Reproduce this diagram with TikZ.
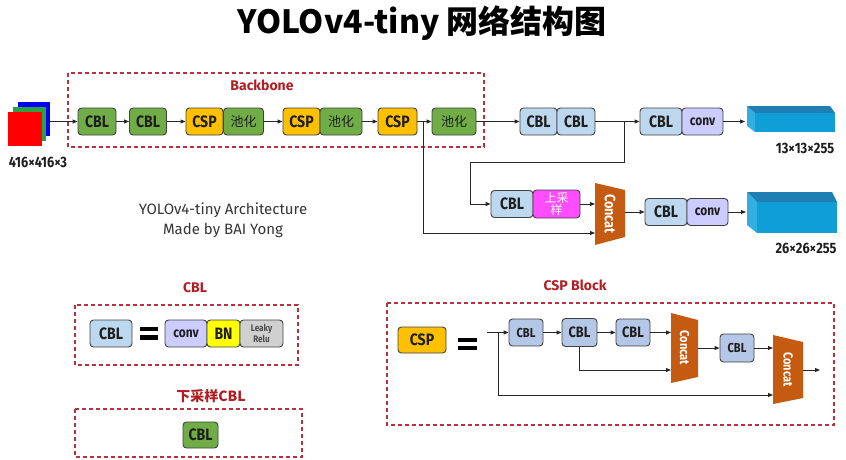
\documentclass[tikz,border=0pt]{standalone}
\usepackage{fontspec}
\setmainfont{Fira Sans}
\newfontfamily\cjk{Noto Sans CJK SC}
\newfontfamily\bx[FakeStretch=0.85]{Fira Sans}
\usetikzlibrary{arrows.meta}
\definecolor{gr}{HTML}{70AD47}
\definecolor{yl}{HTML}{FFC000}
\definecolor{lb}{HTML}{BDD7EE}
\definecolor{lb2}{HTML}{B4C7E7}
\definecolor{lv}{HTML}{CCCCFF}
\definecolor{pk}{HTML}{FF4DFF}
\definecolor{cc}{HTML}{C55A11}
\definecolor{bd}{HTML}{404040}
\definecolor{tx}{HTML}{1E1E1E}
\definecolor{lnc}{HTML}{262626}
\definecolor{dr}{HTML}{B8323C}
\definecolor{dt}{HTML}{B01E23}
\definecolor{ct}{HTML}{1F7FB3}
\definecolor{cf}{HTML}{0F9FD6}
\definecolor{cs}{HTML}{33AEE0}
\definecolor{gy}{HTML}{D0D0D0}
\definecolor{by}{HTML}{FFFF00}
\definecolor{ig}{HTML}{2EA043}
\begin{document}
\begin{tikzpicture}[x=1pt,y=-1pt,
  box/.style={draw=bd, line width=0.9pt, rounded corners=3.5pt, minimum height=27pt, inner sep=0pt, text=tx, font=\bx\bfseries\fontsize{16.5}{16.5}\selectfont},
  gbox/.style={box, fill=gr},
  ybox/.style={box, fill=yl},
  bbox/.style={box, fill=lb},
  bbox2/.style={box, fill=lb2},
  vbox/.style={box, fill=lv, font=\bx\bfseries\fontsize{14}{14}\selectfont},
  cnbox/.style={box, fill=gr, font=\cjk\fontsize{13}{13}\selectfont},
  ar/.style={draw=lnc, line width=0.9pt, -{Triangle[length=5pt,width=4pt]}},
  lnk/.style={draw=lnc, line width=0.9pt},
  dbox/.style={draw=dr, line width=1.2pt, dash pattern=on 4pt off 3pt},
  ttl/.style={text=dt, font=\bfseries\fontsize{14}{14}\selectfont},
  cat/.style={fill=cc},
  cattxt/.style={text=white, rotate=-90, inner sep=0pt, font=\bx\bfseries\fontsize{15}{15}\selectfont},
  dimtxt/.style={text=tx, font=\bx\bfseries\fontsize{15}{15}\selectfont},
  eqbar/.style={fill=black}
]
\useasboundingbox (0,0) rectangle (846,460);

% title
\node[text=black, font=\cjk\bfseries\fontsize{32}{32}\selectfont] (title) at (422,23) {YOLOv4-tiny 网络结构图};

% input
\fill[blue] (18,102) rectangle (50,136);
\fill[ig] (13,107) rectangle (46,141);
\fill[red] (8,112) rectangle (42,146);
\coordinate (inp) at (50,121.5);
\node[dimtxt] (inlab) at (38,162) {416×416×3};

% backbone
\draw[dbox] (68,73) rectangle (484,147);
\node[ttl] (bbl) at (262,85) {Backbone};

\node[gbox, minimum width=38pt] (c1) at (97,121.5) {CBL};
\node[gbox, minimum width=37pt] (c2) at (148,121.5) {CBL};
\node[ybox, minimum width=37pt] (s1) at (204.5,121.5) {CSP};
\node[cnbox, minimum width=40pt] (p1) at (243.5,121.5) {池化};
\node[ybox, minimum width=37pt] (s2) at (301.5,121.5) {CSP};
\node[cnbox, minimum width=42pt] (p2) at (341,121.5) {池化};
\node[ybox, minimum width=39pt] (s3) at (397.5,121.5) {CSP};
\node[cnbox, minimum width=44pt] (p3) at (454,121.5) {池化};
\node[bbox, minimum width=37pt] (b1) at (538.5,121.5) {CBL};
\node[bbox, minimum width=38pt] (b2) at (576,121.5) {CBL};
\node[bbox, minimum width=42pt] (b3) at (661,121.5) {CBL};
\node[vbox, minimum width=41pt] (v1) at (702.5,121.5) {conv};

\draw[ar] (inp) -- (c1.west);
\draw[ar] (c1) -- (c2);
\draw[ar] (c2) -- (s1);
\draw[ar] (p1) -- (s2);
\draw[ar] (p2) -- (s3);
\coordinate (j1) at (423,121.5);
\draw[lnk] (s3.east) -- (j1);
\draw[ar] (j1) -- (p3.west);
\draw[ar] (p3) -- (b1);
\coordinate (j2) at (624,121.5);
\draw[lnk] (b2.east) -- (j2);
\draw[ar] (j2) -- (b3.west);
\coordinate (k1) at (745,121.5);
\draw[ar] (v1) -- (k1);

% cube 1
\fill[cs] (747,106) -- (755,113) -- (755,132) -- (747,126) -- cycle;
\fill[ct] (747,106) -- (830,106) -- (835,113) -- (755,113) -- cycle;
\fill[cf] (755,113) rectangle (835,132);
\node[dimtxt] (o1) at (805,148) {13×13×255};

% second row
\node[bbox, minimum width=42pt] (d1) at (512,204) {CBL};
\node[box, fill=pk, minimum width=47pt, minimum height=28pt, text=white, align=center, font=\cjk\fontsize{12}{12.5}\selectfont] (up) at (556.5,204) {上采\\样};
\coordinate (jm) at (470,162);
\draw[ar] (j2) |- (jm) |- (d1.west);

\fill[cat] (595,183) -- (625,190) -- (625,237) -- (595,245) -- cycle;
\node[cattxt] (ka) at (610,214) {Concat};
\coordinate (ka1) at (595,204);
\coordinate (ka2) at (595,233);
\coordinate (kao) at (625,212);
\draw[ar] (up) -- (ka1);
\draw[ar] (j1) |- (ka2);

\node[bbox, minimum width=42pt] (e1) at (666,212) {CBL};
\node[vbox, minimum width=41pt] (v2) at (707.5,212) {conv};
\draw[ar] (kao) -- (e1.west);
\coordinate (k2) at (746,212);
\draw[ar] (v2) -- (k2);

% cube 2
\fill[cs] (747,192) -- (757,202) -- (757,233) -- (747,225) -- cycle;
\fill[ct] (747,192) -- (832,192) -- (837,202) -- (757,202) -- cycle;
\fill[cf] (757,202) rectangle (837,233);
\node[dimtxt] (o2) at (806,248) {26×26×255};

% subtitle
\node[text=tx!90, align=center, font=\fontsize{15}{19.5}\selectfont] (sub) at (223,220) {YOLOv4-tiny Architecture\\Made by BAI Yong};

% CBL legend
\node[ttl] (tcbl) at (195,288) {CBL};
\draw[dbox] (75,305) rectangle (298,365);
\node[bbox, minimum width=42pt] (q0) at (111,333.5) {CBL};
\fill[eqbar] (140,326.5) rectangle (158,331);
\fill[eqbar] (140,335) rectangle (158,339.5);
\node[vbox, minimum width=42pt] (q1) at (186,333.5) {conv};
\node[box, fill=by, minimum width=33pt] (q2) at (223.5,333.5) {BN};
\node[box, fill=gy, minimum width=43pt, align=center, text=tx!80, font=\bx\bfseries\fontsize{9.5}{10.5}\selectfont] (q3) at (261.5,333.5) {Leaky\\Relu};

% downsample CBL legend
\node[ttl, font=\cjk\bfseries\fontsize{14}{14}\selectfont] (tdown) at (211,396) {下采样CBL};
\draw[dbox] (75,409) rectangle (302,457);
\node[gbox, minimum width=35pt, minimum height=26pt] (q4) at (200.5,435) {CBL};

% CSP block legend
\node[ttl] (tcsp) at (575,285) {CSP Block};
\draw[dbox] (387,303) rectangle (834,425);
\node[ybox, minimum width=48pt, minimum height=26pt] (r0) at (422,340) {CSP};
\fill[eqbar] (458,338) rectangle (477,342);
\fill[eqbar] (458,346) rectangle (477,350);
\coordinate (rin) at (487,332.5);
\coordinate (rbr) at (498,332.5);
\node[bbox2, minimum width=34pt, font=\bx\bfseries\fontsize{13}{13}\selectfont] (ra) at (526,332.5) {CBL};
\node[bbox2, minimum width=35pt, minimum height=28pt, font=\bx\bfseries\fontsize{15}{15}\selectfont] (rb) at (579.5,332.5) {CBL};
\node[bbox2, minimum width=34pt, font=\bx\bfseries\fontsize{15}{15}\selectfont] (rc) at (633,332.5) {CBL};
\fill[cat] (671,313) -- (698,320) -- (698,377) -- (671,383) -- cycle;
\node[cattxt, font=\bx\bfseries\fontsize{13}{13}\selectfont] (kA) at (684.5,348) {Concat};
\coordinate (kA1) at (671,332.5);
\coordinate (kA2) at (671,370);
\coordinate (kAo) at (698,348);
\node[bbox2, minimum width=34pt, minimum height=28pt, font=\bx\bfseries\fontsize{13}{13}\selectfont] (rd) at (737,348) {CBL};
\fill[cat] (773,335) -- (803,342) -- (803,398) -- (773,404) -- cycle;
\node[cattxt, font=\bx\bfseries\fontsize{13}{13}\selectfont] (kB) at (788,369.5) {Concat};
\coordinate (kB1) at (773,348);
\coordinate (kB2) at (773,395);
\coordinate (kBo) at (803,370);
\coordinate (rout) at (820,370);

\draw[lnk] (rin) -- (rbr);
\draw[ar] (rbr) -- (ra.west);
\draw[ar] (ra) -- (rb);
\draw[ar] (rb) -- (rc);
\draw[ar] (rc.east) -- (kA1);
\draw[ar] (rb.south) |- (kA2);
\draw[ar] (kAo) -- (rd.west);
\draw[ar] (rd.east) -- (kB1);
\draw[ar] (rbr) |- (kB2);
\draw[ar] (kBo) -- (rout);
\end{tikzpicture}
\end{document}
